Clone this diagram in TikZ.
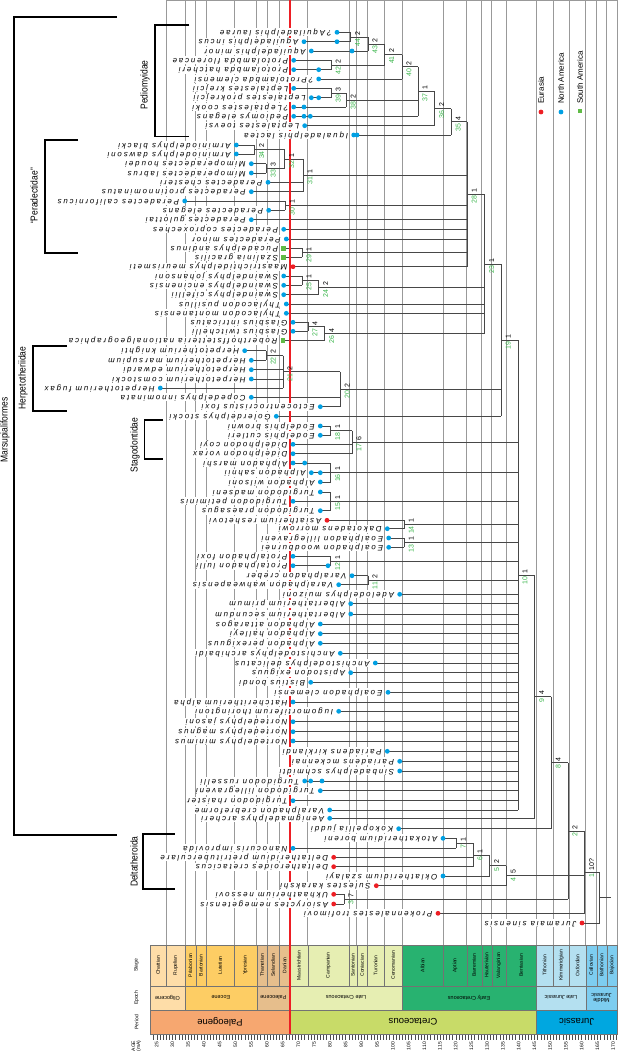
\documentclass[tikz,border=0pt]{standalone}
\usepackage{fontspec}
\setmainfont{Liberation Sans}
\newfontfamily\taxfont[LetterSpace=24]{Liberation Sans}
\newfontfamily\condfont[FakeStretch=0.85]{Liberation Sans}
\usetikzlibrary{calc}
\pgfdeclarelayer{back}
\pgfdeclarelayer{mid}
\pgfsetlayers{back,mid,main}

\definecolor{eurasia}{RGB}{237,30,36}
\definecolor{namerica}{RGB}{0,160,227}
\definecolor{samerica}{RGB}{96,187,70}
\definecolor{nodegreen}{RGB}{57,181,74}
\definecolor{olig}{RGB}{254,221,168}
\definecolor{eoc}{RGB}{253,205,100}
\definecolor{paleoc}{RGB}{230,190,140}
\definecolor{paleog}{RGB}{246,167,112}
\definecolor{latecr}{RGB}{230,238,178}
\definecolor{cret}{RGB}{200,219,104}
\definecolor{earlycr}{RGB}{40,178,112}
\definecolor{latej}{RGB}{180,224,240}
\definecolor{midj}{RGB}{125,205,240}
\definecolor{jur}{RGB}{0,167,224}

\newcommand\eu[2]{\fill[eurasia] (#1,#2) circle (2.4pt);}
\newcommand\nam[2]{\fill[namerica] (#1,#2) circle (2.4pt);}
\newcommand\sam[2]{\fill[samerica] (#1,#2) +(-2.3pt,-2.3pt) rectangle +(2.3pt,2.3pt);}
% id, x of first find, y, marker, name
\newcommand\taxon[5]{\coordinate (#1) at (#2,#3); #4{#2}{#3}
  \node[taxlabel] at ([xshift=-5pt]#1) {#5};}
% id, x, top child, bottom child, support, node number
\newcommand\clade[6]{\coordinate (#1m) at ($(#3)!.5!(#4)$);
  \coordinate (#1) at (#1m -| #2,0);
  \begin{pgfonlayer}{mid}\draw[branch] (#3 -| #1) -- (#4 -| #1);\end{pgfonlayer}
  \node[sup] at ([xshift=7pt,yshift=1.5pt]#1) {#5};
  \node[num] at ([xshift=7pt,yshift=-1.5pt]#1) {#6};}

\begin{document}
\begin{tikzpicture}[x=1pt, y=-1pt,
  branch/.style={draw=black!72, line width=0.75pt},
  taxlabel/.style={rotate=180, anchor=west, fill=white, inner sep=0.4pt,
    font=\taxfont\itshape\fontsize{7.9}{8}\selectfont, text height=5.6pt, text depth=1.6pt},
  sup/.style={rotate=90, anchor=west, inner sep=0pt, font=\fontsize{7}{7}\selectfont},
  num/.style={sup, anchor=east, text=nodegreen},
  gridline/.style={draw=black!40, line width=0.5pt},
  bracket/.style={line width=1.3pt},
  cladename/.style={rotate=90, font=\condfont\fontsize{10}{11}\selectfont},
  cell/.style={draw=black!55, line width=0.4pt},
  stagename/.style={rotate=90, font=\fontsize{5}{5}\selectfont},
  epochname/.style={rotate=180, align=center, font=\fontsize{5.5}{5.5}\selectfont},
  periodname/.style={rotate=180, font=\fontsize{9.5}{10}\selectfont},
  legend/.style={rotate=90, anchor=west, inner sep=0pt, font=\fontsize{8}{8}\selectfont}]
\useasboundingbox (0,0) rectangle (628,1055);

% stage lines
\begin{pgfonlayer}{back}
\draw[gridline] (166,0.5) -- (617.3,0.5);
\foreach \x in {166,185,195.7,206,234,256.7,267.3,279,307.7,349,356.7,367.3,384,402,443.3,
  466.7,481.7,491.7,506,536,553.3,569.3,585.7,596.7,606.7,617.3}
  \draw[gridline] (\x,0) -- (\x,945);
\end{pgfonlayer}

% time scale
\foreach \a/\b/\c/\n in {150/166/olig/Chattian, 166/185/olig/Rupelian, 185/195.7/eoc/Priabonian,
  195.7/206/eoc/Bartonian, 206/234/eoc/Lutetian, 234/256.7/eoc/Ypresian,
  256.7/267.3/paleoc/Thanetian, 267.3/279/paleoc/Selandian, 279/290/paleoc/Danian,
  290/307.7/latecr/Maastrichtian, 307.7/349/latecr/Campanian, 349/356.7/latecr/Santonian,
  356.7/367.3/latecr/Coniacian, 367.3/384/latecr/Turonian, 384/402/latecr/Cenomanian,
  402/443.3/earlycr/Albian, 443.3/466.7/earlycr/Aptian, 466.7/481.7/earlycr/Barremian,
  481.7/491.7/earlycr/Hauterivian, 491.7/506/earlycr/Valanginian, 506/536/earlycr/Berriasian,
  536/553.3/latej/Tithonian, 553.3/569.3/latej/Kimmeridgian, 569.3/585.7/latej/Oxfordian,
  585.7/596.7/midj/Callovian, 596.7/606.7/midj/Bathonian, 606.7/617.3/midj/Bajocian}
{ \draw[cell, fill=\c] (\a,945) rectangle (\b,985.7);
  \node[stagename] at ({(\a+\b)/2},965.3) {\n}; }
\foreach \a/\b/\c/\n in {150/185/olig/Oligocene, 185/256.7/eoc/Eocene, 256.7/290/paleoc/Paleocene,
  290/402/latecr/Late Cretaceous, 402/536/earlycr/Early Cretaceous, 536/585.7/latej/Late Jurassic,
  585.7/617.3/midj/{Middle\\Jurassic}}
{ \draw[cell, fill=\c] (\a,985.7) rectangle (\b,1010);
  \node[epochname] at ({(\a+\b)/2},997.8) {\n}; }
\foreach \a/\b/\c/\n in {150/290/paleog/Paleogene, 290/536/cret/Cretaceous, 536/617.3/jur/Jurassic}
{ \draw[cell, fill=\c] (\a,1010) rectangle (\b,1034.3);
  \node[periodname] at ({(\a+\b)/2},1022.2) {\n}; }
\foreach \a in {24,...,171}
  \draw[black!70, line width=0.4pt] ({156.7+(\a-25)*3.148},1035) -- ++(0,5);
\foreach \a in {25,30,...,170}
  \node[stagename, anchor=east, inner sep=0pt] at ({156.7+(\a-25)*3.148},1042) {\a};
\node[stagename] at (136.5,965.3) {Stage};
\node[stagename] at (136.5,997.8) {Epoch};
\node[stagename] at (136.5,1022.2) {Period};
\node[stagename, align=center] at (136.5,1046) {AGE\\(mA)};

% K-Pg boundary
\draw[eurasia, line width=1.8pt] (290,0) -- (290,1034.3);

% legend
\node[legend] (eurasia) at (541,104) {Eurasia};
\node[legend] (namer) at (561,104) {North America};
\node[legend] (samer) at (580,104) {South America};
\eu{541}{112} \nam{561}{112} \sam{580}{111}

% clades
\draw[bracket] (117,17) -| (14,835) -- (117,835);
\node[cladename] at (5,430) {Marsupialiformes};
\draw[bracket] (189.3,25) -| (155,136.7) -- (189.3,136.7);
\node[cladename] at (145,85) {Pediomyidae};
\draw[bracket] (78,140) -| (45,253) -- (78,253);
\node[cladename] at (34,196) {“Peradectidae”};
\draw[bracket] (67,346) -| (33,411) -- (67,411);
\node[cladename] at (23,378) {Herpetotheriidae};
\draw[bracket] (163,420) -| (144.7,459) -- (163,459);
\node[cladename] at (135,445) {Stagodontidae};
\draw[bracket] (174.7,834) -| (143,889) -- (174.7,889);
\node[cladename] at (134,861.7) {Deltatheroida};

% taxa
\taxon{t0}{337}{32.3}{\nam}{?Aquiladelphis laurae}
\taxon{t1}{304}{41.7}{\nam}{Aquiladelphis incus} \nam{337}{41.7}
\taxon{t2}{311.3}{51}{\nam}{Aquiladelphis minor} \nam{352}{51}
\taxon{t3}{293.7}{60.3}{\nam}{Protolambda florencae}
\taxon{t4}{293.7}{69.7}{\nam}{Protolambda hatcheri} \nam{318.7}{69.7}
\taxon{t5}{318.7}{79}{\nam}{?Protolambda clemensi}
\taxon{t6}{293.7}{88.3}{\nam}{Leptalestes krejcii}
\taxon{t7}{311.3}{97.7}{\nam}{Leptalestes prokrejcii} \nam{318.7}{97.7}
\taxon{t8}{293.7}{107}{\nam}{?Leptalestes cooki} \nam{304}{107}
\taxon{t9}{293.7}{116.3}{\nam}{Pediomys elegans} \nam{304}{116.3} \nam{310.3}{116.3}
\taxon{t10}{304.7}{125.7}{\nam}{Leptalestes toevsi}
\taxon{t11}{353.7}{135}{\nam}{Iqualadelphis lactea} \nam{357}{135}
\taxon{t12}{236.3}{145}{\nam}{Arminiodelphys blacki}
\taxon{t13}{236.3}{154}{\nam}{Arminiodelphys dawsoni}
\taxon{t14}{251.3}{163.7}{\nam}{Mimoperadectes houdei}
\taxon{t15}{251.3}{173}{\nam}{Mimoperadectes labrus}
\taxon{t16}{268}{182.3}{\nam}{Peradectes chesteri}
\taxon{t17}{251.3}{191.7}{\nam}{Peradectes protinnominatus}
\taxon{t18}{184.7}{201}{\nam}{Peradectes californicus}
\taxon{t19}{268.7}{210.3}{\nam}{Peradectes elegans}
\taxon{t20}{251.3}{219.7}{\nam}{Peradectes gulottai}
\taxon{t21}{283.7}{229.3}{\nam}{Peradectes coproxeches}
\taxon{t22}{286.3}{239}{\nam}{Peradectes minor}
\taxon{t23}{283.7}{248.3}{\sam}{Pucadelphys andinus}
\taxon{t24}{283.7}{257.3}{\sam}{Szalinia gracilis}
\taxon{t25}{293}{266.7}{\eu}{Maastrichtidelphys meurismeti}
\taxon{t26}{283.7}{276}{\nam}{Swaindelphys johansoni}
\taxon{t27}{283.7}{285.3}{\nam}{Swaindelphys encinensis}
\taxon{t28}{283.7}{294.7}{\nam}{Swaindelphys cifellii}
\taxon{t29}{286.3}{304}{\nam}{Thylacodon pusillus}
\taxon{t30}{286.3}{313.3}{\nam}{Thylacodon montanensis}
\taxon{t31}{293}{322.3}{\nam}{Glasbius intricatus}
\taxon{t32}{293}{331.3}{\nam}{Glasbius twitchelli}
\taxon{t33}{283}{340.7}{\sam}{Roberthoffstetteria nationalgeographica}
\taxon{t34}{244.7}{350.7}{\nam}{Herpetotherium knighti}
\taxon{t35}{251.3}{360.3}{\nam}{Herpetotherium marsupium}
\taxon{t36}{251.3}{369.7}{\nam}{Herpetotherium edwardi}
\taxon{t37}{251.3}{379}{\nam}{Herpetotherium comstocki}
\taxon{t38}{160.3}{388}{\nam}{Herpetotherium fugax}
\taxon{t39}{251.3}{397.3}{\nam}{Copedelphys innominata}
\taxon{t40}{320.3}{406.7}{\nam}{Ectocentrocristus foxi}
\taxon{t41}{276.3}{416.3}{\nam}{Golerdelphys stocki}
\taxon{t42}{320.3}{426}{\nam}{Eodelphis browni}
\taxon{t43}{320.3}{435.3}{\nam}{Eodelphis cutleri}
\taxon{t44}{293}{444.3}{\nam}{Didelphodon coyi}
\taxon{t45}{293}{453.7}{\nam}{Didelphodon vorax}
\taxon{t46}{293}{463}{\nam}{Alphadon marshi} \nam{304.7}{463}
\taxon{t47}{311.3}{472.7}{\nam}{Alphadon sahnii} \nam{320.3}{472.7}
\taxon{t48}{320.3}{482}{\nam}{Alphadon wilsoni}
\taxon{t49}{320.3}{492}{\nam}{Turgidodon madseni}
\taxon{t50}{293}{501.3}{\nam}{Turgidodon petiminis}
\taxon{t51}{320.3}{510.7}{\nam}{Turgidodon praesagus}
\taxon{t52}{327}{520.3}{\eu}{Asiatherium reshetovi}
\taxon{t53}{387.3}{528.7}{\nam}{Dakotadens morrowi}
\taxon{t54}{388.7}{538}{\nam}{Eoalphadon lillegraveni}
\taxon{t55}{388.7}{547.3}{\nam}{Eoalphadon woodburnei}
\taxon{t56}{293}{556.3}{\nam}{Protalphadon foxi}
\taxon{t57}{293}{565.7}{\nam}{Protalphadon lulli} \nam{328}{565.7}
\taxon{t58}{352}{575.7}{\nam}{Varalphadon creber}
\taxon{t59}{338.7}{584.7}{\nam}{Varalphadon wahweapensis}
\taxon{t60}{399.7}{594.3}{\nam}{Adelodelphys muizoni}
\taxon{t61}{350.7}{603.7}{\nam}{Albertatherium primum}
\taxon{t62}{350.7}{614}{\nam}{Albertatherium secundum}
\taxon{t63}{320.3}{624}{\nam}{Alphadon attaragos}
\taxon{t64}{320.3}{633.7}{\nam}{Alphadon halleyi}
\taxon{t65}{320.3}{643.3}{\nam}{Alphadon perexiguus}
\taxon{t66}{340.3}{653.3}{\nam}{Anchistodelphys archibaldi}
\taxon{t67}{375.3}{663}{\nam}{Anchistodelphys delicatus}
\taxon{t68}{350.7}{672.7}{\nam}{Apistodon exiguus}
\taxon{t69}{310.7}{682.3}{\nam}{Bistius bondi}
\taxon{t70}{388}{692.3}{\nam}{Eoalphadon clemensi}
\taxon{t71}{293}{702}{\nam}{Hatcheritherium alpha}
\taxon{t72}{338.7}{711.3}{\nam}{Iugomortiferum thoringtoni}
\taxon{t73}{293}{721.7}{\nam}{Nortedelphys jasoni}
\taxon{t74}{293}{731.7}{\nam}{Nortedelphys magnus}
\taxon{t75}{293}{741}{\nam}{Nortedelphys minimus}
\taxon{t76}{387.3}{751.3}{\nam}{Pariadens kirklandi}
\taxon{t77}{399.7}{761.3}{\nam}{Pariadens mckennai}
\taxon{t78}{399.7}{771}{\nam}{Sinbadelphys schmidti}
\taxon{t79}{304.7}{781}{\nam}{Turgidodon russelli} \nam{310.7}{781} \nam{322}{781}
\taxon{t80}{320.3}{790.7}{\nam}{Turgidodon lillegraveni}
\taxon{t81}{293}{800.7}{\nam}{Turgidodon rhaister}
\taxon{t82}{329.7}{810}{\nam}{Varalphadon crebreforme}
\taxon{t83}{329.7}{818.3}{\nam}{Aenigmadelphys archeri}
\taxon{t84}{398.7}{828.7}{\nam}{Kokopellia juddi}
\taxon{t85}{443}{838.3}{\nam}{Atokatheridium boreni}
\taxon{t86}{293}{848.3}{\nam}{Nanocuris improvida}
\taxon{t87}{333.7}{857.3}{\eu}{Deltatheridium pretrituberculare}
\taxon{t88}{333.7}{866.7}{\eu}{Deltatheroides cretacicus}
\taxon{t89}{443}{876}{\nam}{Oklatheridium szalayi}
\taxon{t90}{376.3}{885.7}{\eu}{Sulestes karakshi}
\taxon{t91}{333.7}{894.3}{\eu}{Ukhaatherium nessovi}
\taxon{t92}{333.7}{904}{\eu}{Asioryctes nemegetensis}
\taxon{t93}{438}{913.3}{\eu}{Prokennalestes trofimovi}
\taxon{t94}{582}{923}{\eu}{Juramaia sinensis}

% nodes
\clade{n44}{350.7}{t0}{t1}{2}{44}
\clade{n43}{368}{n44}{t2}{2}{43}
\clade{n42}{331.3}{t3}{t4}{2}{42}
\clade{n41}{384.7}{n43}{n42}{2}{41}
\clade{n40}{402}{n41}{t5}{2}{40}
\clade{n39}{331.3}{t6}{t7}{3}{39}
\clade{n38}{346.3}{n39}{t8}{2}{38}
\clade{n37}{418}{n40}{t9}{1}{37}
\clade{n36}{434.7}{n37}{t10}{2}{36}
\clade{n35}{451.3}{n36}{t11}{4}{35}
\clade{n34}{254.7}{t12}{t13}{2}{34}
\clade{n33}{266.3}{t14}{t15}{3}{33}
\clade{n32}{284.7}{n34}{n33}{1}{32}
\clade{n31}{303}{n32}{t17}{1}{31}
\clade{n30}{285.3}{t18}{t19}{1}{30}
\clade{n29}{302}{t23}{t24}{1}{29}
\clade{n28}{467.3}{n35}{t25}{1}{28}
\clade{n25}{302}{t26}{t27}{1}{25}
\clade{n24}{318.7}{n25}{t28}{2}{24}
\clade{n27}{308}{t31}{t32}{4}{27}
\clade{n26}{324.7}{n27}{t33}{4}{26}
\clade{n23}{484.7}{n28}{n26}{1}{23}
\clade{n22}{266.3}{t34}{t35}{2}{22}
\clade{n21}{283}{n22}{t38}{2}{21}
\clade{n20}{340.3}{n21}{t40}{2}{20}
\clade{n19}{501.3}{n23}{t41}{1}{19}
\clade{n18}{330.7}{t42}{t43}{1}{18}
\clade{n17}{352}{n18}{t45}{6}{17}
\clade{n16}{330.7}{t46}{t48}{1}{16}
\clade{n15}{330.7}{t49}{t51}{1}{15}
\clade{n14}{404.3}{t52}{t53}{1}{14}
\clade{n13}{404.3}{t54}{t55}{1}{13}
\clade{n12}{330.7}{t56}{t57}{1}{12}
\clade{n11}{368}{t58}{t59}{2}{11}
\clade{n10}{518}{n19}{t82}{1}{10}
\clade{n9}{534.7}{n10}{t83}{4}{9}
\clade{n8}{551.3}{n9}{t84}{4}{8}
\clade{n7}{456.3}{t85}{t86}{1}{7}
\clade{n6}{473}{n7}{t88}{1}{6}
\clade{n5}{489.7}{n6}{t89}{2}{5}
\clade{n4}{506.3}{n5}{t90}{5}{4}
\clade{n3}{344}{t91}{t92}{7}{3}
\clade{n2}{568}{n8}{n3}{2}{2}
\clade{n1}{584.7}{n2}{t93}{10?}{1}
\coordinate (rootm) at ($(n1)!.5!(t94)$);
\coordinate (root) at (rootm -| 599.7,0);
\coordinate (rootend) at (rootm -| 611.3,0);

\begin{pgfonlayer}{mid}
\draw[branch] (n1 -| root) -- (t94 -| root);
\draw[branch] (root) -- (rootend);
\foreach \c/\p in {t0/n44, t1/n44, n44/n43, t2/n43, t3/n42, t4/n42, n43/n41, n42/n41,
  n41/n40, t5/n40, t6/n39, t7/n39, n39/n38, t8/n38, n40/n37, n38/n37, t9/n37,
  n37/n36, t10/n36, n36/n35, t11/n35, t12/n34, t13/n34, t14/n33, t15/n33,
  n34/n32, n33/n32, n32/n31, t16/n31, t17/n31, t18/n30, t19/n30, t23/n29, t24/n29,
  n35/n28, n31/n28, n30/n28, t20/n28, t21/n28, t22/n28, n29/n28, t25/n28,
  t26/n25, t27/n25, n25/n24, t28/n24, t31/n27, t32/n27, n27/n26, t33/n26,
  n28/n23, n24/n23, t29/n23, t30/n23, n26/n23, t34/n22, t35/n22, n22/n21,
  t36/n21, t37/n21, t38/n21, n21/n20, t39/n20, t40/n20, n23/n19, n20/n19, t41/n19,
  t42/n18, t43/n18, n18/n17, t44/n17, t45/n17, t46/n16, t47/n16, t48/n16,
  t49/n15, t50/n15, t51/n15, t52/n14, t53/n14, t54/n13, t55/n13, t56/n12, t57/n12,
  t58/n11, t59/n11, n19/n10, n17/n10, n16/n10, n15/n10, n14/n10, n13/n10, n12/n10, n11/n10,
  n10/n9, t83/n9, n9/n8, t84/n8, t85/n7, t86/n7, n7/n6, t87/n6, t88/n6, n6/n5, t89/n5,
  n5/n4, t90/n4, t91/n3, t92/n3, n8/n2, n3/n2, n2/n1, n4/n1, t93/n1, n1/root, t94/root}
  \draw[branch] (\c) -- (\c -| \p);
\foreach \i in {60,...,82}
  \draw[branch] (t\i) -- (t\i -| n10);
\end{pgfonlayer}
\end{tikzpicture}
\end{document}
